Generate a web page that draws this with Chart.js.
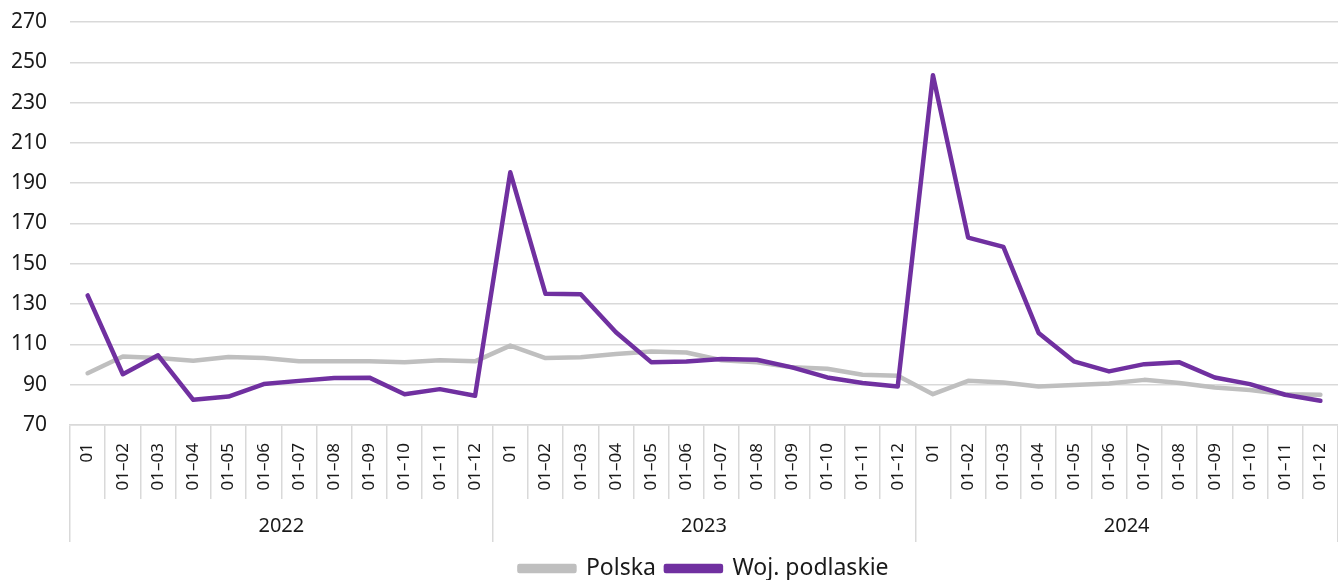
<!DOCTYPE html>
<html>
<head>
<meta charset="utf-8">
<script src="https://cdn.jsdelivr.net/npm/chart.js@4.4.1/dist/chart.umd.min.js"></script>
<style>
  html, body { margin: 0; padding: 0; background: #ffffff; }
  #wrap { width: 1338px; height: 580px; position: relative; }
</style>
</head>
<body>
<div id="wrap"><canvas id="c"></canvas></div>
<script>
const years = ['2022', '2023', '2024'];
const monthLabels = ['01', '01–02', '01–03', '01–04', '01–05', '01–06', '01–07', '01–08', '01–09', '01–10', '01–11', '01–12'];
const polska = [95.7, 104.0, 103.2, 101.9, 103.7, 103.2, 101.6, 101.6, 101.6, 101.2, 102.1, 101.6,
                109.4, 103.2, 103.6, 105.2, 106.5, 106.0, 102.1, 101.1, 98.6, 97.9, 94.9, 94.4,
                85.3, 91.9, 91.1, 89.1, 89.9, 90.6, 92.4, 90.8, 88.6, 87.4, 85.3, 85.0];
const podlaskie = [134.3, 95.2, 104.6, 82.5, 84.1, 90.3, 91.9, 93.3, 93.5, 85.3, 87.8, 84.5,
                   195.4, 135.1, 134.9, 116.0, 101.2, 101.5, 102.7, 102.4, 98.6, 93.6, 90.8, 89.1,
                   243.6, 163.0, 158.4, 115.7, 101.6, 96.6, 100.2, 101.1, 93.6, 90.3, 85.0, 82.0];
const yTicks = [70, 90, 110, 130, 150, 170, 190, 210, 230, 250, 270];

const categories = [];
years.forEach(() => monthLabels.forEach(m => categories.push(m)));
const n = categories.length;
const per = monthLabels.length;

const FONT = "'Noto Sans', sans-serif";
const TXT = '#1a1a1a';
const GRID = '#d9d9d9';

// group (year) axis: separators at group boundaries, labels at group centres
const groupTicks = [];
for (let g = 0; g <= years.length; g++) {
  groupTicks.push({ value: g * per - 0.5, kind: 'sep' });
  if (g < years.length) groupTicks.push({ value: g * per + (per - 1) / 2, kind: 'label', idx: g });
}
const findGroup = (v) => groupTicks.find(g => Math.abs(g.value - v) < 1e-6);

new Chart(document.getElementById('c'), {
  type: 'line',
  data: {
    labels: categories,
    datasets: [
      { label: 'Polska', data: polska, borderColor: '#bfbfbf', backgroundColor: '#bfbfbf',
        borderWidth: 4.5, pointRadius: 0, tension: 0, order: 2, borderCapStyle: 'round', borderJoinStyle: 'round' },
      { label: 'Woj. podlaskie', data: podlaskie, borderColor: '#7030a0', backgroundColor: '#7030a0',
        borderWidth: 4.5, pointRadius: 0, tension: 0, order: 1, borderCapStyle: 'round', borderJoinStyle: 'round' }
    ]
  },
  options: {
    responsive: true,
    maintainAspectRatio: false,
    animation: false,
    layout: { padding: { top: 22, left: 0, right: 0, bottom: -10 } },
    plugins: {
      tooltip: { enabled: false },
      legend: {
        position: 'bottom',
        fullSize: false,
        labels: {
          font: { family: FONT, size: 23 }, color: TXT,
          boxWidth: 55, boxHeight: 5, padding: 10,
          sort: (a, b) => a.datasetIndex - b.datasetIndex
        }
      }
    },
    scales: {
      y: {
        min: 70, max: 270,
        afterBuildTicks: (s) => { s.ticks = yTicks.map(v => ({ value: v })); },
        afterFit: (s) => { s.width = 70; },
        ticks: { font: { family: FONT, size: 21 }, color: TXT, padding: 0 },
        grid: { color: GRID, lineWidth: 1.5, drawTicks: true, tickLength: 23, tickColor: 'rgba(0,0,0,0)' },
        border: { display: false }
      },
      x: {
        type: 'category', position: 'bottom', weight: 0, offset: true,
        afterFit: (s) => { s.height = 74; },
        ticks: { font: { family: FONT, size: 17 }, color: TXT, minRotation: 90, maxRotation: 90, autoSkip: false, padding: -56 },
        grid: { offset: true, drawOnChartArea: false, color: GRID, lineWidth: 1.5, tickLength: 74 },
        border: { display: true, color: GRID, width: 1.5 }
      },
      x2: {
        type: 'linear', position: 'bottom', weight: 1, min: -0.5, max: n - 0.5,
        afterFit: (s) => { s.height = 48; },
        afterBuildTicks: (s) => { s.ticks = groupTicks.map(t => ({ value: t.value })); },
        ticks: {
          font: { family: FONT, size: 20 }, color: TXT, autoSkip: false, maxRotation: 0, minRotation: 0, padding: -28,
          callback: (v) => { const t = findGroup(v); return t && t.kind === 'label' ? years[t.idx] : ''; }
        },
        grid: {
          drawOnChartArea: false, lineWidth: 1.5, tickLength: 43,
          color: (ctx) => { const t = ctx.tick ? findGroup(ctx.tick.value) : null; return t && t.kind === 'sep' ? GRID : 'rgba(0,0,0,0)'; }
        },
        border: { display: false }
      }
    }
  }
});
</script>
</body>
</html>
